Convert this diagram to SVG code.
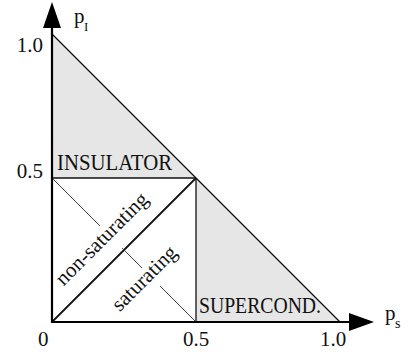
<svg xmlns="http://www.w3.org/2000/svg" width="408" height="356" viewBox="0 0 408 356">
<style>
.t{font-family:"Liberation Serif","Times New Roman",serif;fill:#111}
.num{font-size:21px}
.lab{font-size:23px}
.fill{fill:#e6e6e6;stroke:none}
.thin{stroke:#111;stroke-width:1.3;fill:none}
.axis{stroke:#000;stroke-width:2.2;fill:none}
.anti{stroke:#333;stroke-width:0.9;fill:none}
</style>
<g id="regions">
<polygon class="fill" points="52,34 52,178 196,178"/>
<polygon class="fill" points="196,178 196,322 340,322"/>
</g>
<g id="connectors">
<line class="thin" x1="52" y1="34" x2="340" y2="322"/>
<line class="thin" x1="52" y1="178" x2="196" y2="178"/>
<line class="thin" x1="196" y1="178" x2="196" y2="322"/>
<line class="thin" x1="52" y1="322" x2="196" y2="178" style="stroke-width:1.8"/>
<line class="anti" x1="52" y1="178" x2="100" y2="226"/>
<line class="anti" x1="122" y1="248" x2="142" y2="268"/>
<line class="anti" x1="160" y1="286" x2="196" y2="322"/>
<line class="axis" x1="52" y1="323" x2="52" y2="26"/>
<line class="axis" x1="51" y1="322" x2="351" y2="322"/>
<polygon points="52,2 43,28 61,28" fill="#000"/>
<polygon points="374,322 349,313 349,331" fill="#000"/>
</g>
<g id="y-axis-labels">
<text class="t num" x="43" y="52" text-anchor="end">1.0</text>
<text class="t num" x="43" y="178" text-anchor="end">0.5</text>
<text class="t" x="74" y="23" font-size="21">p</text>
<text class="t" x="84" y="31" font-size="13">I</text>
</g>
<g id="x-axis-labels">
<text class="t num" x="38" y="346">0</text>
<text class="t num" x="183" y="346">0.5</text>
<text class="t num" x="320" y="346">1.0</text>
<text class="t" x="385" y="320" font-size="21">p</text>
<text class="t" x="395" y="328" font-size="14">s</text>
</g>
<g id="insulator">
<text class="t lab" x="57" y="170" textLength="115" lengthAdjust="spacingAndGlyphs">INSULATOR</text>
</g>
<g id="supercond">
<text class="t lab" x="199" y="313" textLength="122" lengthAdjust="spacingAndGlyphs">SUPERCOND.</text>
</g>
<g id="non-saturating">
<text class="t num" transform="translate(106.5,243.5) rotate(-45)" text-anchor="middle">non-saturating</text>
</g>
<g id="saturating">
<text class="t num" transform="translate(149,283) rotate(-45)" text-anchor="middle">saturating</text>
</g>
</svg>
